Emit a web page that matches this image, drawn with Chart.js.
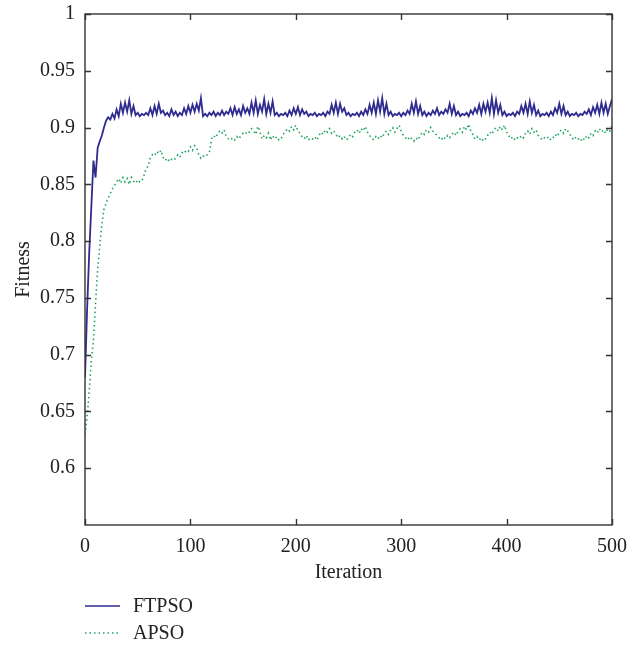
<!DOCTYPE html>
<html>
<head>
<meta charset="utf-8">
<script src="https://cdn.jsdelivr.net/npm/chart.js@4.4.1/dist/chart.umd.min.js"></script>
<style>
  html, body { margin: 0; padding: 0; background: #fff; }
  #wrap { width: 629px; height: 650px; }
</style>
</head>
<body>
<div id="wrap"><canvas id="fitChart" width="629" height="650"></canvas></div>
<script>
const fontFamily = "'Liberation Serif', 'DejaVu Serif', serif";
const fontSize = 20;
const textColor = "#222";
const axisColor = "#333";

// iterations sampled every 2 steps, 0..500
const iterations = Array.from({ length: 251 }, (_, i) => i * 2);
const xTicks = [0, 100, 200, 300, 400, 500];
const yTicks = [0.6, 0.65, 0.7, 0.75, 0.8, 0.85, 0.9, 0.95, 1];

const ftpso = [
  0.680, 0.740, 0.790, 0.830, 0.871, 0.856, 0.882, 0.888, 0.893, 0.900,
  0.906, 0.909, 0.907, 0.912, 0.908, 0.916, 0.910, 0.921, 0.913, 0.922,
  0.914, 0.924, 0.912, 0.919, 0.911, 0.913, 0.910, 0.912, 0.911, 0.913,
  0.911, 0.917, 0.911, 0.919, 0.912, 0.921, 0.913, 0.915, 0.911, 0.913,
  0.910, 0.916, 0.911, 0.914, 0.910, 0.913, 0.911, 0.917, 0.912, 0.919,
  0.913, 0.920, 0.914, 0.921, 0.915, 0.926, 0.910, 0.912, 0.910, 0.913,
  0.911, 0.914, 0.910, 0.913, 0.911, 0.915, 0.911, 0.914, 0.912, 0.917,
  0.911, 0.918, 0.912, 0.916, 0.911, 0.919, 0.913, 0.917, 0.912, 0.922,
  0.913, 0.924, 0.912, 0.920, 0.914, 0.925, 0.912, 0.921, 0.913, 0.923,
  0.911, 0.913, 0.910, 0.912, 0.911, 0.913, 0.910, 0.915, 0.911, 0.917,
  0.912, 0.918, 0.911, 0.916, 0.912, 0.914, 0.910, 0.912, 0.911, 0.913,
  0.910, 0.912, 0.911, 0.913, 0.910, 0.914, 0.912, 0.920, 0.913, 0.922,
  0.912, 0.921, 0.914, 0.917, 0.911, 0.913, 0.910, 0.912, 0.911, 0.913,
  0.910, 0.914, 0.911, 0.916, 0.912, 0.920, 0.913, 0.922, 0.912, 0.924,
  0.914, 0.926, 0.912, 0.921, 0.911, 0.914, 0.910, 0.912, 0.911, 0.913,
  0.910, 0.913, 0.911, 0.915, 0.912, 0.921, 0.913, 0.923, 0.912, 0.919,
  0.911, 0.914, 0.910, 0.913, 0.911, 0.915, 0.912, 0.917, 0.911, 0.914,
  0.912, 0.916, 0.913, 0.921, 0.912, 0.919, 0.911, 0.914, 0.910, 0.912,
  0.911, 0.913, 0.910, 0.915, 0.912, 0.917, 0.913, 0.920, 0.912, 0.921,
  0.914, 0.922, 0.913, 0.926, 0.912, 0.924, 0.913, 0.920, 0.911, 0.914,
  0.910, 0.912, 0.911, 0.913, 0.910, 0.914, 0.912, 0.919, 0.913, 0.921,
  0.912, 0.923, 0.913, 0.920, 0.911, 0.915, 0.910, 0.912, 0.911, 0.913,
  0.910, 0.914, 0.911, 0.917, 0.913, 0.921, 0.912, 0.919, 0.911, 0.914,
  0.910, 0.912, 0.911, 0.913, 0.910, 0.912, 0.911, 0.914, 0.912, 0.916,
  0.911, 0.918, 0.913, 0.920, 0.912, 0.922, 0.913, 0.921, 0.912, 0.919,
  0.925
];

const apso = [
  0.630, 0.645, 0.668, 0.695, 0.713, 0.745, 0.775, 0.795, 0.815, 0.828,
  0.833, 0.838, 0.842, 0.846, 0.849, 0.852, 0.855, 0.851, 0.856, 0.852,
  0.855, 0.850, 0.856, 0.853, 0.851, 0.854, 0.852, 0.853, 0.858, 0.864,
  0.866, 0.874, 0.876, 0.875, 0.879, 0.877, 0.880, 0.874, 0.871, 0.873,
  0.870, 0.872, 0.871, 0.873, 0.876, 0.874, 0.878, 0.877, 0.880, 0.879,
  0.883, 0.880, 0.884, 0.882, 0.876, 0.873, 0.875, 0.874, 0.876, 0.878,
  0.890, 0.893, 0.891, 0.895, 0.897, 0.895, 0.898, 0.892, 0.890, 0.889,
  0.891, 0.889, 0.892, 0.890, 0.893, 0.895, 0.894, 0.897, 0.896, 0.899,
  0.897, 0.894, 0.901, 0.896, 0.890, 0.893, 0.891, 0.895, 0.889, 0.893,
  0.890, 0.892, 0.889, 0.890, 0.894, 0.896, 0.899, 0.897, 0.901, 0.898,
  0.902, 0.897, 0.895, 0.892, 0.890, 0.893, 0.889, 0.891, 0.890, 0.892,
  0.889, 0.893, 0.896, 0.894, 0.898, 0.896, 0.899, 0.895, 0.897, 0.894,
  0.891, 0.893, 0.890, 0.892, 0.889, 0.891, 0.894, 0.892, 0.896, 0.898,
  0.895, 0.899, 0.897, 0.901, 0.896, 0.893, 0.891, 0.889, 0.892, 0.890,
  0.893, 0.891, 0.895, 0.897, 0.894, 0.898, 0.900, 0.896, 0.899, 0.902,
  0.897, 0.893, 0.891, 0.889, 0.892, 0.890, 0.888, 0.891, 0.889, 0.893,
  0.896, 0.894, 0.898, 0.896, 0.900, 0.897, 0.895, 0.893, 0.891, 0.889,
  0.892, 0.890, 0.893, 0.891, 0.894, 0.896, 0.893, 0.897, 0.899, 0.896,
  0.901, 0.898, 0.903, 0.897, 0.894, 0.890, 0.892, 0.889, 0.891, 0.888,
  0.890, 0.893, 0.896, 0.894, 0.898, 0.900, 0.897, 0.901, 0.898, 0.902,
  0.896, 0.893, 0.890, 0.892, 0.889, 0.891, 0.890, 0.893, 0.891, 0.895,
  0.897, 0.894, 0.899, 0.896, 0.898, 0.893, 0.891, 0.889, 0.891, 0.890,
  0.892, 0.889, 0.891, 0.894, 0.892, 0.896, 0.898, 0.895, 0.899, 0.897,
  0.894, 0.891, 0.889, 0.892, 0.890, 0.888, 0.891, 0.889, 0.893, 0.891,
  0.895, 0.893, 0.897, 0.895, 0.899, 0.896, 0.898, 0.895, 0.899, 0.897,
  0.902
];

const seriesNames = ["FTPSO", "APSO"];
const seriesColors = ["#2f2b8f", "#1fa463"];

const toPoints = (arr) => arr.map((v, i) => ({ x: iterations[i], y: v }));

// box around plot + inward tick marks (matlab style)
const boxTicks = {
    id: 'boxTicks',
    afterDatasetsDraw(chart) {
        const { ctx, chartArea: { top, bottom, left, right } } = chart;
        const xs = chart.scales.x, ys = chart.scales.y;
        const len = 6;
        ctx.save();
        ctx.strokeStyle = axisColor;
        ctx.lineWidth = 1.4;
        ctx.strokeRect(left, top, right - left, bottom - top);
        ctx.beginPath();
        xTicks.forEach(t => {
            const px = Math.round(xs.getPixelForValue(t)) + 0.5;
            ctx.moveTo(px, bottom); ctx.lineTo(px, bottom - len);
            ctx.moveTo(px, top); ctx.lineTo(px, top + len);
        });
        yTicks.forEach(t => {
            const py = Math.round(ys.getPixelForValue(t)) + 0.5;
            ctx.moveTo(left, py); ctx.lineTo(left + len, py);
            ctx.moveTo(right, py); ctx.lineTo(right - len, py);
        });
        ctx.stroke();
        ctx.restore();
    }
};

// legend stacked under the x axis title
const stackedLegend = {
    id: 'stackedLegend',
    afterDraw(chart) {
        const ctx = chart.ctx;
        const left = chart.chartArea.left;
        ctx.save();
        ctx.font = fontSize + 'px ' + fontFamily;
        ctx.textBaseline = 'middle';
        chart.data.datasets.forEach((ds, i) => {
            const y = 606 + i * 27;
            ctx.beginPath();
            ctx.strokeStyle = ds.borderColor;
            ctx.lineWidth = 1.5;
            ctx.setLineDash(ds.borderDash || []);
            ctx.moveTo(left, y);
            ctx.lineTo(left + 35, y);
            ctx.stroke();
            ctx.setLineDash([]);
            ctx.fillStyle = textColor;
            ctx.fillText(ds.label, left + 48, y + 1);
        });
        ctx.restore();
    }
};

new Chart("fitChart", {
    type: "line",
    data: {
        datasets: [{
            label: seriesNames[0],
            data: toPoints(ftpso),
            borderColor: seriesColors[0],
            backgroundColor: seriesColors[0],
            borderWidth: 1.8,
            pointRadius: 0,
            tension: 0,
        },
        {
            label: seriesNames[1],
            data: toPoints(apso),
            borderColor: seriesColors[1],
            backgroundColor: seriesColors[1],
            borderWidth: 1.6,
            borderDash: [1.5, 3],
            pointRadius: 0,
            tension: 0,
        }],
    },
    options: {
        responsive: false,
        animation: false,
        layout: {
            padding: { left: 0, top: 10, right: 9, bottom: 65 },
        },
        plugins: {
            legend: { display: false },
            tooltip: { enabled: false },
        },
        scales: {
            x: {
                type: 'linear',
                min: 0,
                max: 500,
                border: { display: false },
                grid: { display: false },
                afterBuildTicks: (scale) => { scale.ticks = xTicks.map(v => ({ value: v })); },
                ticks: {
                    color: textColor,
                    padding: 2,
                    maxRotation: 0,
                    font: { family: fontFamily, size: fontSize },
                },
                title: {
                    display: true,
                    text: "Iteration",
                    color: textColor,
                    padding: { top: 0, bottom: 0 },
                    font: { family: fontFamily, size: fontSize },
                },
                afterFit: (scale) => { scale.height = 60; },
            },
            y: {
                min: 0.55,
                max: 1,
                border: { display: false },
                grid: { display: false },
                afterBuildTicks: (scale) => { scale.ticks = yTicks.map(v => ({ value: v })); },
                ticks: {
                    color: textColor,
                    padding: 2,
                    font: { family: fontFamily, size: fontSize },
                    callback: (v) => String(+v.toFixed(2)),
                },
                title: {
                    display: true,
                    text: "Fitness",
                    color: textColor,
                    padding: { top: 12, bottom: 0 },
                    font: { family: fontFamily, size: fontSize },
                },
                afterFit: (scale) => { scale.width = 85; },
            },
        },
    },
    plugins: [boxTicks, stackedLegend]
});
</script>
</body>
</html>
